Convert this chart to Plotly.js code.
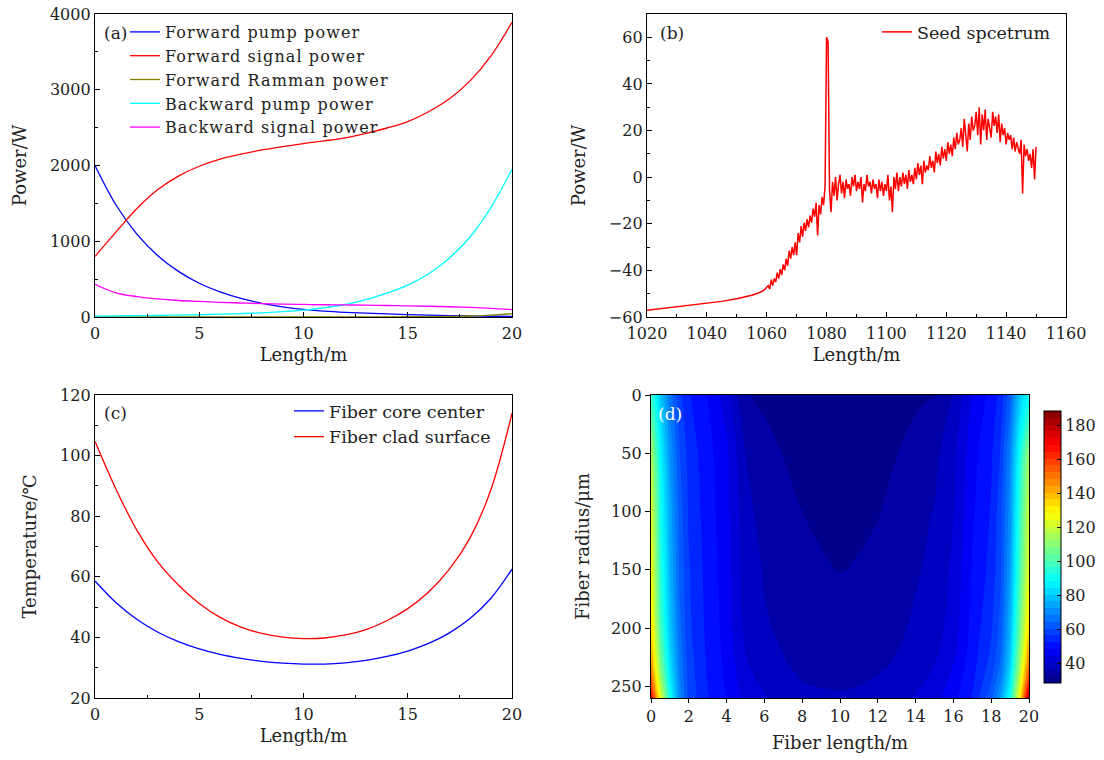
<!DOCTYPE html>
<html>
<head>
<meta charset="utf-8">
<script src="https://cdn.plot.ly/plotly-3.0.1.min.js"></script>
<style>
html,body{margin:0;padding:0;background:#fff;}
.legendtext{letter-spacing:1.1px;}
</style>
</head>
<body>
<div id="chart" style="width:1104px;height:760px;"></div>
<script>
// ---------- Panel (a): power along fiber ----------
const lengthA = [0,1,2,3,4,5,6,7,8,9,10,11,12,13,14,15,16,17,18,19,20];
const fwdPump = [2000,1482,1098,813,602,446,331,245,181,134,100,78,62,50,40,32,25,19,14,10,7];
const fwdSignal = [800,1120,1430,1680,1860,1990,2085,2150,2205,2250,2290,2325,2365,2425,2495,2580,2710,2880,3120,3450,3890];
const fwdRaman = [0,0,0,0,0,0,0,0,0,0,1,1,1,2,2,3,5,8,13,24,45];
const bwdPump = [12,14,17,20,25,30,37,45,55,70,90,122,165,230,315,420,570,780,1060,1450,1950];
const bwdSignal = [432,320,270,238,218,205,194,185,176,170,166,162,159,156,152,148,142,135,126,114,98];

// ---------- Panel (b): seed spectrum ----------
const smoothWl = [1020,1025,1030,1035,1040,1045,1050,1053,1055,1057,1058,1059];
const smoothPow = [-57.1,-56.4,-55.7,-55,-54.2,-53.3,-52.2,-51.4,-50.7,-49.8,-49.3,-48.6];
const noisyStart = 1059.5, noisyStep = 0.5;
const noisyPow = [
 -48,-47,-46.5,-48,-44,-46.5,-43.5,-45,-41,-43.5,
 -39.5,-42,-37.5,-40,-35,-38,-31.5,-35,-30,-33.5,
 -28,-33.5,-24,-28,-21,-25.5,-19.5,-23,-18,-21.5,
 -16.5,-19.5,-13.5,-17,-11,-25,-12,-16,-8.5,-12,
 -4,60,58,-6,-15,-2,-8,0,-10,-3,
 1,-7,-2,-9,-1,-5,-3,-8,0,-4,
 1,-6,-2,-5,0,-11,-3,-6,1,-4,
 -2,-7,-1,-5,-3,-9,-1,-6,-2,-8,
 -3,-6,1,-10,-4,-15,0,-5,2,-6,
 0,-4,2,-3,1,-5,3,-2,1,-3,
 4,-1,6,1,5,-3,7,2,5,3,
 9,4,7,2,11,6,10,5,13,8,
 12,7,15,10,14,9,17,12,19,14,
 16,21,13,25,18,11,23,16,26,20,
 22,28,18,30,14,27,20,29,16,25,
 21,17,28,22,26,19,27,15,23,18,
 21,14,19,16,18,12,17,11,15,13,
 10,16,-7,14,9,12,7,10,4,12,
 -1,13
];

// ---------- Panel (c): temperature along fiber ----------
const lengthC = [0,1,2,3,4,5,6,7,8,9,10,11,12,13,14,15,16,17,18,19,20];
const coreTemp = [58.6,51.5,46,41.8,38.6,36.2,34.4,33.1,32.1,31.5,31.2,31.2,31.6,32.4,33.7,35.5,38,41.5,46.3,53,62.5];
const cladTemp = [104.7,89,75.5,65,57.3,51.2,46.6,43.4,41.3,40.1,39.6,39.8,40.8,42.6,45.5,49.5,55,62.5,73,89,114];

// ---------- Panel (d): temperature map ----------
const heatLen = [0,0.5,1,1.5,2,3,4,5,6,7,8,9,10,11,12,13,14,15,16,17,18,18.5,19,19.5,20];
const heatRadius = [0,50,100,150,200,230,250,260];
const heatTemp = [
 [98,80,67,58,53,48.5,42.5,32.8,32.0,31.4,31,30.6,30.4,30.6,31,31.5,32.0,32.6,36.8,45,50,54,63,80,90],
 [115,88,72,61,55,50,45.5,36.5,33.6,32.5,32.2,31.5,31.2,31.4,32,32.5,33.8,35.5,39.5,47,52,57,69,90,112],
 [124,92,75,63,56,50.5,46,37.5,35.5,34.3,32.6,32.1,31.9,32.1,32.4,33.6,35.3,36.8,40.5,48,53,59,71,95,120],
 [128,95,77,64,57,51,46.5,38.5,36.3,35.1,33.9,32.9,32.5,32.8,33.6,34.8,36.2,37.5,41.5,49,54,60,73,98,125],
 [135,100,80,66,57.5,51.5,47,39.5,37,36,35.1,34.5,34.2,34.4,35,35.9,37.2,38.8,42.5,50,56,62,77,104,135],
 [145,108,84,68,58.5,52,47.5,41,38,36.8,35.9,35.4,35.2,35.4,36,36.9,38.5,40.5,44.5,51,58,65,81,112,150],
 [160,118,88,70,59,52.5,48,42.5,40,38,36.8,36.5,36.4,36.6,37.2,38.3,40,42,46.5,52,61,70,87,122,168],
 [172,125,92,71,59.5,53,48.5,43.5,41,39,37.5,37.1,37.0,37.3,38,39.3,41,43,47.5,53,63,73,91,128,185]
];
const colorTicks = [40,60,80,100,120,140,160,180];

// build spectrum arrays
const specWl = smoothWl.slice();
const specPow = smoothPow.slice();
noisyPow.forEach((v, i) => { specWl.push(noisyStart + i * noisyStep); specPow.push(v); });

const FONT = 'DejaVu Serif';
const jet = [[0,'rgb(0,0,128)'],[0.125,'rgb(0,0,255)'],[0.375,'rgb(0,255,255)'],[0.625,'rgb(255,255,0)'],[0.875,'rgb(255,0,0)'],[1,'rgb(128,0,0)']];

function px(x){ return x/1104; }
function py(y){ return 1 - y/760; }

const traces = [
  {x: lengthA, y: fwdPump, name: 'Forward pump power', mode: 'lines', line: {color: '#0000ff', width: 1.3, shape: 'spline'}, xaxis: 'x', yaxis: 'y', legend: 'legend'},
  {x: lengthA, y: fwdSignal, name: 'Forward signal power', mode: 'lines', line: {color: '#ff0000', width: 1.3, shape: 'spline'}, xaxis: 'x', yaxis: 'y', legend: 'legend'},
  {x: lengthA, y: fwdRaman, name: 'Forward Ramman power', mode: 'lines', line: {color: '#808000', width: 1.3, shape: 'spline'}, xaxis: 'x', yaxis: 'y', legend: 'legend'},
  {x: lengthA, y: bwdPump, name: 'Backward pump power', mode: 'lines', line: {color: '#00ffff', width: 1.3, shape: 'spline'}, xaxis: 'x', yaxis: 'y', legend: 'legend'},
  {x: lengthA, y: bwdSignal, name: 'Backward signal power', mode: 'lines', line: {color: '#ff00ff', width: 1.3, shape: 'spline'}, xaxis: 'x', yaxis: 'y', legend: 'legend'},
  {x: specWl, y: specPow, name: 'Seed spcetrum', mode: 'lines', line: {color: '#ff0000', width: 1.5}, xaxis: 'x2', yaxis: 'y2', legend: 'legend2'},
  {x: lengthC, y: coreTemp, name: 'Fiber core center', mode: 'lines', line: {color: '#0000ff', width: 1.3, shape: 'spline'}, xaxis: 'x3', yaxis: 'y3', legend: 'legend3'},
  {x: lengthC, y: cladTemp, name: 'Fiber clad surface', mode: 'lines', line: {color: '#ff0000', width: 1.3, shape: 'spline'}, xaxis: 'x3', yaxis: 'y3', legend: 'legend3'},
  {type: 'contour', x: heatLen, y: heatRadius, z: heatTemp, xaxis: 'x4', yaxis: 'y4', showlegend: false,
   colorscale: jet, zauto: false, zmin: 28.6, zmax: 188.6,
   contours: {start: 28.6, end: 188.6, size: 4, coloring: 'fill', showlines: false},
   line: {width: 0, smoothing: 1},
   colorbar: {x: px(1044), xanchor: 'left', y: py(547), yanchor: 'middle', len: 272/760, lenmode: 'fraction',
     thickness: 17, thicknessmode: 'pixels', xpad: 0, ypad: 0, outlinewidth: 1, outlinecolor: '#000',
     tickvals: colorTicks, ticks: 'inside', ticklen: 4, tickcolor: '#000', tickfont: {family: FONT, size: 16, color: '#222'}}
  }
];

function frameAxis(extra){
  return Object.assign({
    showline: true, linecolor: '#000', linewidth: 1.2, mirror: true,
    ticks: 'inside', ticklen: 5, tickcolor: '#000', tickwidth: 1,
    showgrid: false, zeroline: false,
    tickfont: {family: FONT, size: 16, color: '#222'},
  }, extra);
}
const titleFont = {family: FONT, size: 18, color: '#222'};
const legFont = {family: FONT, size: 16, color: '#222'};
const legFontBig = {family: FONT, size: 17.5, color: '#222'};

const layout = {
  width: 1104, height: 760,
  margin: {l: 0, r: 0, t: 0, b: 0},
  paper_bgcolor: '#fff', plot_bgcolor: '#fff',
  font: {family: FONT, color: '#222'},
  xaxis: frameAxis({domain: [px(95), px(512)], anchor: 'y', range: [0, 20], dtick: 5, ticklabelstandoff: 2,
    minor: {dtick: 2.5, ticks: 'inside', ticklen: 3, tickcolor: '#000'},
    title: {text: 'Length/m', font: titleFont, standoff: 6}}),
  yaxis: frameAxis({domain: [py(317), py(14)], anchor: 'x', range: [0, 4000], dtick: 1000,
    minor: {dtick: 500, ticks: 'inside', ticklen: 3, tickcolor: '#000'},
    title: {text: 'Power/W', font: titleFont, standoff: 18}}),
  xaxis2: frameAxis({domain: [px(647), px(1066)], anchor: 'y2', range: [1020, 1160], dtick: 20, ticklabelstandoff: 2,
    minor: {dtick: 10, ticks: 'inside', ticklen: 3, tickcolor: '#000'},
    title: {text: 'Length/m', font: titleFont, standoff: 6}}),
  yaxis2: frameAxis({domain: [py(317), py(14)], anchor: 'x2', range: [-60, 70], dtick: 20,
    minor: {dtick: 10, ticks: 'inside', ticklen: 3, tickcolor: '#000'},
    title: {text: 'Power/W', font: titleFont, standoff: 18}}),
  xaxis3: frameAxis({domain: [px(95), px(512)], anchor: 'y3', range: [0, 20], dtick: 5, ticklabelstandoff: 2,
    minor: {dtick: 2.5, ticks: 'inside', ticklen: 3, tickcolor: '#000'},
    title: {text: 'Length/m', font: titleFont, standoff: 6}}),
  yaxis3: frameAxis({domain: [py(698), py(395)], anchor: 'x3', range: [20, 120], dtick: 20,
    minor: {dtick: 10, ticks: 'inside', ticklen: 3, tickcolor: '#000'},
    title: {text: 'Temperature/℃', font: titleFont, standoff: 18}}),
  xaxis4: frameAxis({domain: [px(651), px(1029)], anchor: 'y4', range: [0, 20], dtick: 2, ticks: 'outside', ticklen: 4,
    title: {text: 'Fiber length/m', font: titleFont, standoff: 11}}),
  yaxis4: frameAxis({domain: [py(698), py(395)], anchor: 'x4', range: [260, 0], tickvals: [0,50,100,150,200,250], ticks: 'outside', ticklen: 5,
    title: {text: 'Fiber radius/μm', font: titleFont, standoff: 16}}),
  legend: {x: px(125), y: py(15), xanchor: 'left', yanchor: 'top', bgcolor: 'rgba(0,0,0,0)', borderwidth: 0,
    font: legFont, tracegroupgap: 0},
  legend2: {x: px(877), y: py(14), xanchor: 'left', yanchor: 'top', bgcolor: 'rgba(0,0,0,0)', borderwidth: 0,
    font: legFontBig},
  legend3: {x: px(289), y: py(393), xanchor: 'left', yanchor: 'top', bgcolor: 'rgba(0,0,0,0)', borderwidth: 0,
    font: legFontBig},
  annotations: [
    {text: '(a)', xref: 'paper', yref: 'paper', x: px(102), y: py(33), xanchor: 'left', yanchor: 'middle', showarrow: false, font: {family: FONT, size: 17, color: '#222'}},
    {text: '(b)', xref: 'paper', yref: 'paper', x: px(658), y: py(33), xanchor: 'left', yanchor: 'middle', showarrow: false, font: {family: FONT, size: 17, color: '#222'}},
    {text: '(c)', xref: 'paper', yref: 'paper', x: px(102), y: py(413), xanchor: 'left', yanchor: 'middle', showarrow: false, font: {family: FONT, size: 17, color: '#222'}},
    {text: '(d)', xref: 'paper', yref: 'paper', x: px(656), y: py(414), xanchor: 'left', yanchor: 'middle', showarrow: false, font: {family: FONT, size: 17, color: '#fff'}}
  ]
};

Plotly.newPlot('chart', traces, layout, {staticPlot: true, displayModeBar: false});
</script>
</body>
</html>
